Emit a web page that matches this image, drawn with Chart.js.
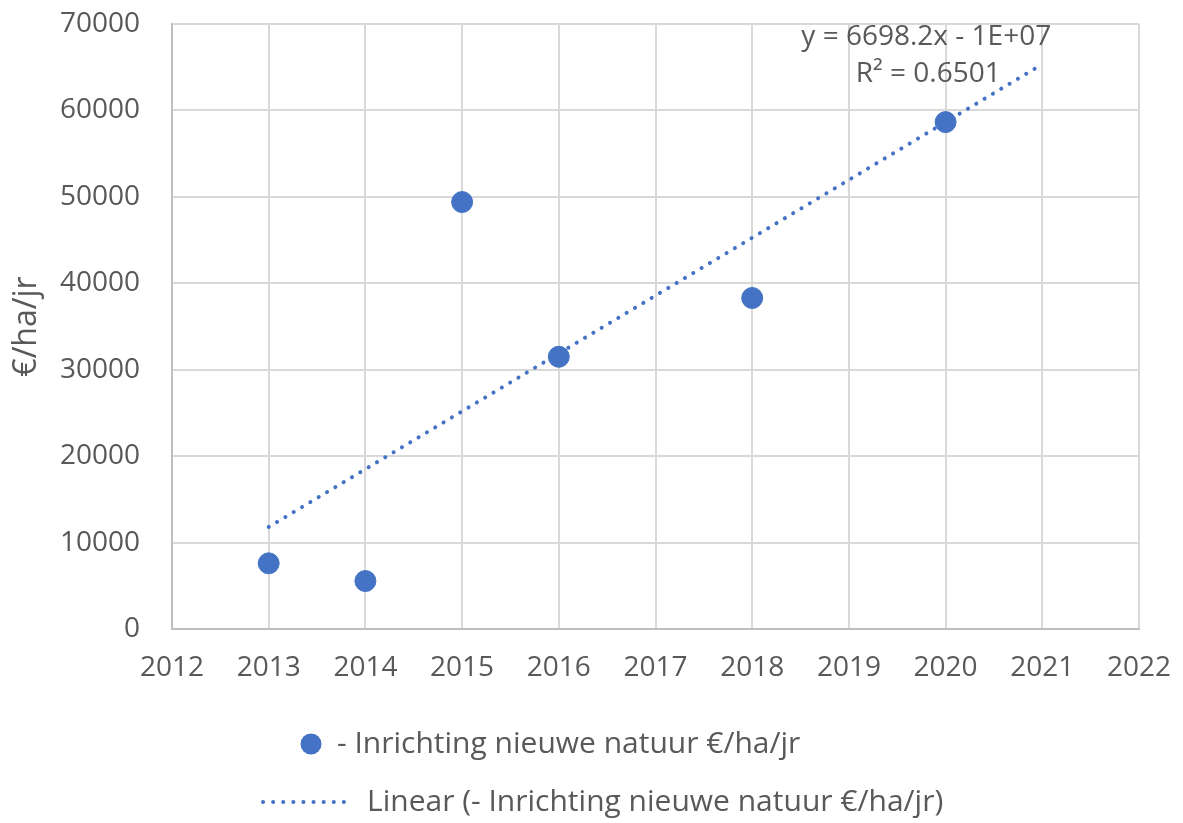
<!DOCTYPE html>
<html>
<head>
<meta charset="utf-8">
<script src="https://cdn.jsdelivr.net/npm/chart.js@4.4.1/dist/chart.umd.min.js"></script>
<style>
  html, body { margin: 0; padding: 0; background: #fff; }
  #wrap { width: 1183px; height: 823px; }
</style>
</head>
<body>
<div id="wrap"><canvas id="kosten" width="1183" height="823"></canvas></div>
<script>
// jaren en kosten per hectare per jaar
const years = [2013, 2014, 2015, 2016, 2018, 2020];
const costs = [7600, 5550, 49400, 31500, 38300, 58650];

// trendlijn, begin- en eindpunt
const trendYears = [2013, 2021];
const trendValues = [11800, 65350];

const seriesLabel = '- Inrichting nieuwe natuur €/ha/jr';
const trendLabel = 'Linear (- Inrichting nieuwe natuur €/ha/jr)';
const equationLines = ['y = 6698.2x - 1E+07', 'R² = 0.6501'];

const blue = '#4472C4';
const textGrey = '#595959';
const fontFamily = "'Open Sans', sans-serif";

Chart.defaults.font.family = fontFamily;
Chart.defaults.color = textGrey;

// draws the trendline equation and the legend rows underneath
const extrasPlugin = {
  id: 'extras',
  afterDraw(chart) {
    const ctx = chart.ctx;
    const xs = chart.scales.x, ys = chart.scales.y;
    ctx.save();
    ctx.fillStyle = textGrey;
    ctx.font = '28px ' + fontFamily;
    ctx.textAlign = 'center';
    ctx.textBaseline = 'middle';
    let ex = xs.getPixelForValue(2019.8);
    ctx.fillText(equationLines[0], ex, ys.getPixelForValue(68500));
    ctx.fillText(equationLines[1], ex + 2, ys.getPixelForValue(64200));

    // legend
    ctx.textAlign = 'left';
    ctx.fillStyle = blue;
    ctx.beginPath();
    ctx.arc(311, 744, 10.5, 0, Math.PI * 2);
    ctx.fill();
    ctx.strokeStyle = blue;
    ctx.lineWidth = 4;
    ctx.lineCap = 'round';
    ctx.setLineDash([0.1, 10]);
    ctx.beginPath();
    ctx.moveTo(263, 802);
    ctx.lineTo(353, 802);
    ctx.stroke();
    ctx.setLineDash([]);
    ctx.fillStyle = textGrey;
    ctx.font = '30px ' + fontFamily;
    ctx.fillText(seriesLabel, 337, 744);
    ctx.fillText(trendLabel, 367, 802);
    ctx.restore();
  }
};

new Chart(document.getElementById('kosten'), {
  type: 'scatter',
  data: {
    datasets: [{
      label: seriesLabel,
      data: years.map((y, i) => ({ x: y, y: costs[i] })),
      backgroundColor: blue,
      borderColor: blue,
      pointRadius: 10.5,
      pointHoverRadius: 10.5,
      order: 1
    }, {
      label: trendLabel,
      type: 'line',
      data: trendYears.map((y, i) => ({ x: y, y: trendValues[i] })),
      borderColor: blue,
      borderWidth: 4,
      borderDash: [0.1, 9.6],
      borderCapStyle: 'round',
      pointRadius: 0,
      fill: false,
      order: 2
    }]
  },
  options: {
    responsive: false,
    animation: false,
    layout: { padding: { top: 24, right: 44, bottom: 140, left: 0 } },
    plugins: {
      legend: { display: false },
      tooltip: { enabled: false }
    },
    scales: {
      x: {
        type: 'linear',
        min: 2012,
        max: 2022,
        ticks: {
          stepSize: 1,
          padding: 22,
          font: { size: 28 },
          color: textGrey,
          callback: v => String(v)
        },
        grid: { color: '#d9d9d9', lineWidth: 2, drawTicks: false },
        border: { color: '#bfbfbf', width: 2 },
        afterFit(scale) {
          scale.height = 54;
          scale.paddingLeft = 0;
          scale.paddingRight = 0;
        }
      },
      y: {
        min: 0,
        max: 70000,
        ticks: {
          stepSize: 10000,
          padding: 32,
          font: { size: 28 },
          color: textGrey,
          callback: v => String(v)
        },
        grid: { color: '#d9d9d9', lineWidth: 2, drawTicks: false },
        border: { color: '#bfbfbf', width: 2 },
        title: {
          display: true,
          text: '€/ha/jr',
          font: { size: 32 },
          color: textGrey,
          padding: { top: 8, bottom: 0 }
        },
        afterFit(scale) {
          scale.width = 172;
          scale.paddingTop = 0;
          scale.paddingBottom = 0;
        }
      }
    }
  },
  plugins: [extrasPlugin]
});
</script>
</body>
</html>
